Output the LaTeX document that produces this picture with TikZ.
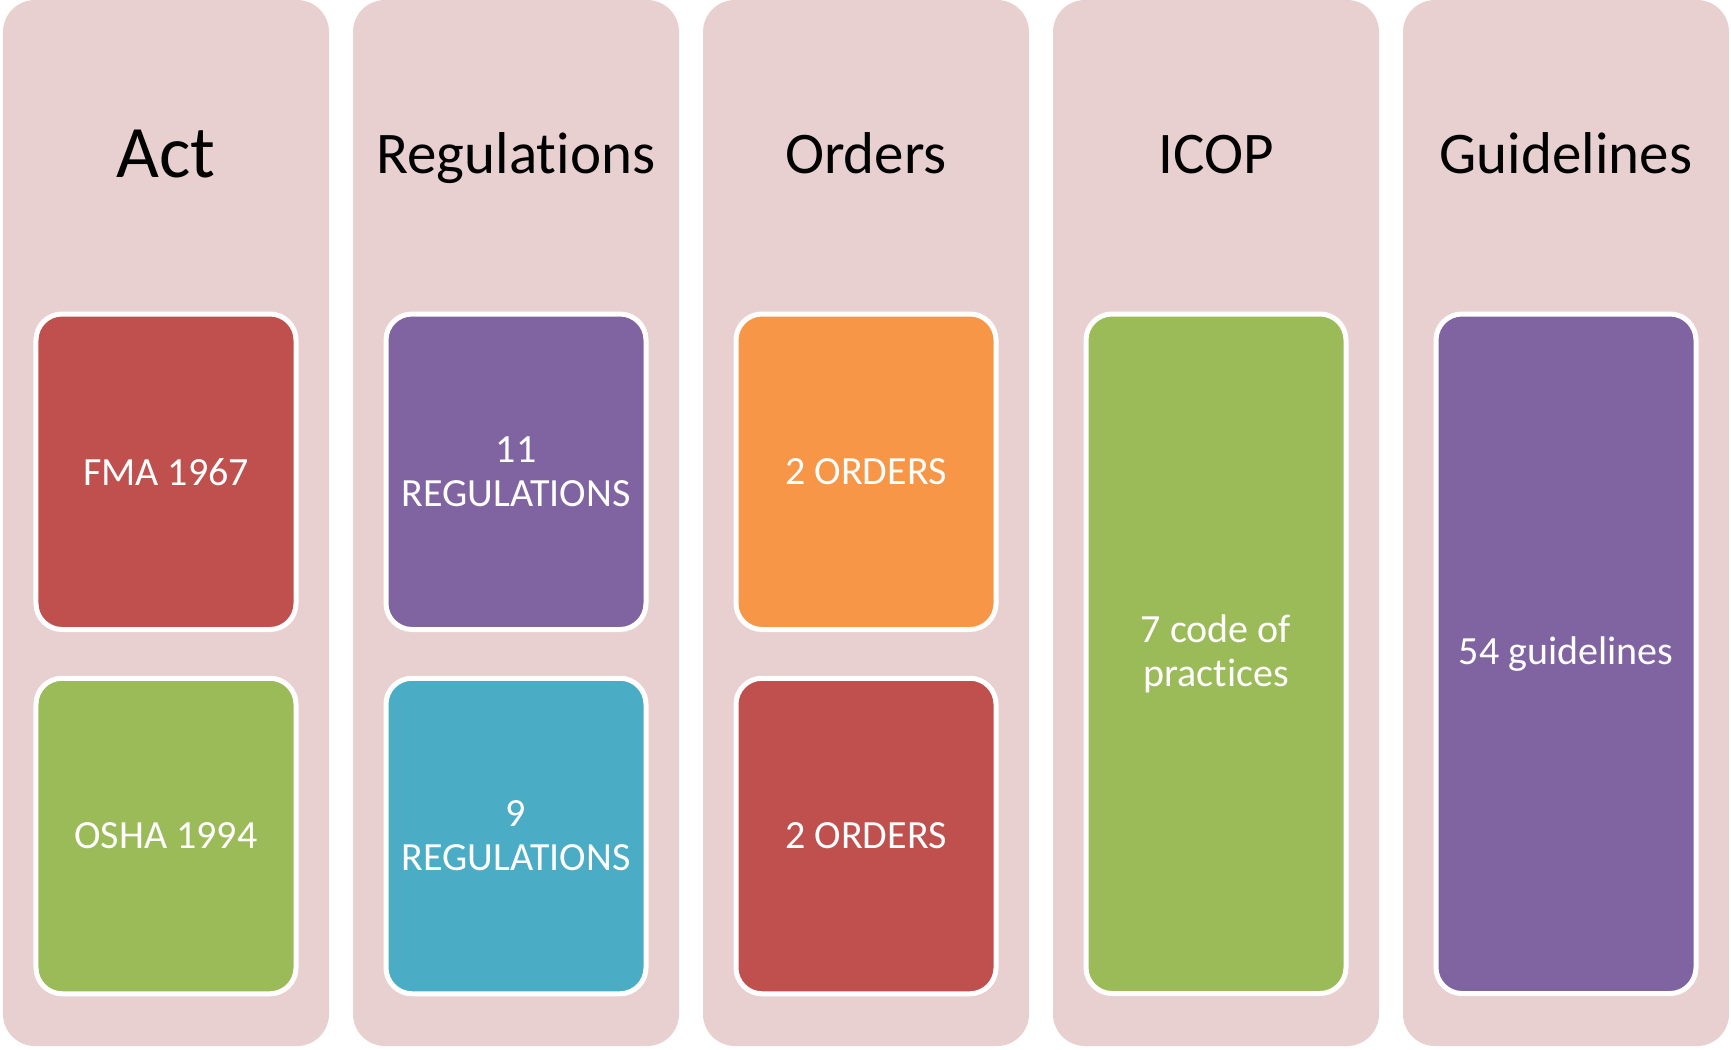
\documentclass[tikz,border=0pt]{standalone}
\usepackage{fontspec}
\setmainfont{Carlito}[Ligatures=NoCommon]
\definecolor{colbg}{HTML}{E8D0D1}
\definecolor{cred}{HTML}{C0504D}
\definecolor{cgreen}{HTML}{9BBB59}
\definecolor{cpurple}{HTML}{8064A2}
\definecolor{corange}{HTML}{F79646}
\definecolor{cblue}{HTML}{4BACC6}
\begin{document}
\begin{tikzpicture}[x=1bp,y=-1bp,
  column/.style={fill=colbg, draw=none, rounded corners=32bp, inner sep=0pt, outer sep=0pt,
    minimum width=326bp, minimum height=1046bp},
  card/.style={draw=white, line width=5bp, rounded corners=26bp, text=white, align=center,
    inner sep=0pt, minimum width=260bp, font=\fontsize{40bp}{44bp}\selectfont},
  short/.style={minimum height=315.5bp},
  tall/.style={minimum height=679.5bp},
  title/.style={anchor=base, inner sep=0pt, font=\fontsize{59bp}{72bp}\selectfont}]
\useasboundingbox (0,0) rectangle (1731,1049);
% columns
\node[column] (c1) at (166,523) {};
\node[column] (c2) at (516,523) {};
\node[column] (c3) at (866,523) {};
\node[column] (c4) at (1216,523) {};
\node[column] (c5) at (1566,523) {};
% titles
\node[title, font=\fontsize{74bp}{88bp}\selectfont] (t1) at (166,177) {Act};
\node[title] (t2) at (516,173) {Regulations};
\node[title] (t3) at (866,173) {Orders};
\node[title] (t4) at (1216,173) {ICOP};
\node[title] (t5) at (1566,173) {Guidelines};
% cards
\node[card, short, fill=cred] (a1) at (166,471.75) {FMA 1967};
\node[card, short, fill=cgreen] (a2) at (166,836) {OSHA 1994};
\node[card, short, fill=cpurple] (r1) at (516,471.75) {11\\REGULATIONS};
\node[card, short, fill=cblue] (r2) at (516,836) {9\\REGULATIONS};
\node[card, short, fill=corange] (o1) at (866,471.75) {2 ORDERS};
\node[card, short, fill=cred] (o2) at (866,836) {2 ORDERS};
\node[card, tall, fill=cgreen] (i1) at (1216,653.75) {7 code of\\practices};
\node[card, tall, fill=cpurple] (g1) at (1566,653.75) {54 guidelines};
\end{tikzpicture}
\end{document}
